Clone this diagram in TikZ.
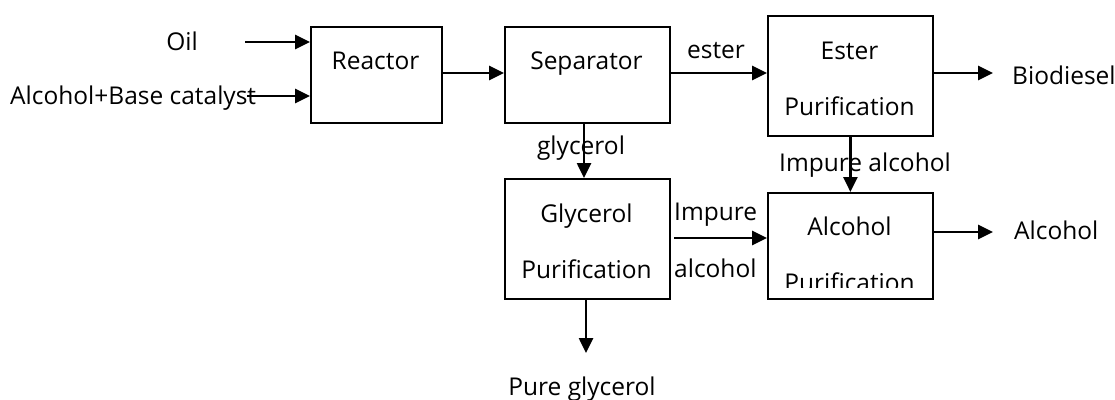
\documentclass[tikz,border=0pt]{standalone}
\usepackage{fontspec}
\setmainfont{Open Sans}
\usetikzlibrary{arrows.meta}
\begin{document}
\begin{tikzpicture}[x=1pt,y=-1pt,
  box/.style={draw=black, line width=1.8pt, fill=white, inner sep=0pt, anchor=north west},
  txt/.style={inner sep=0pt, anchor=base, font=\fontsize{24.5}{24.5}\selectfont, text=black},
  arr/.style={draw=black, line width=2.6pt, -{Triangle[length=15pt,width=14pt]}}]
\useasboundingbox (0,0) rectangle (1115,399);
\fill[white] (0,0) rectangle (1115,399);
% boxes
\node[box, minimum width=131pt, minimum height=96pt] (reactor) at (310,26) {};
\node[box, minimum width=165pt, minimum height=96pt] (separator) at (504,26) {};
\node[box, minimum width=165pt, minimum height=120pt] (ester) at (767,15) {};
\node[box, minimum width=165pt, minimum height=120pt] (glyc) at (504,178) {};
\node[box, minimum width=165pt, minimum height=106pt] (alcp) at (767,192) {};
% box texts
\node[txt] (reactorT) at (375.5,69) {Reactor};
\node[txt] (separatorT) at (586.5,69) {Separator};
\node[txt] (esterT1) at (849.5,59) {Ester};
\node[txt] (esterT2) at (849.5,115) {Purification};
\node[txt] (glycT1) at (586.5,222) {Glycerol};
\node[txt] (glycT2) at (586.5,278) {Purification};
\node[txt] (alcpT1) at (849.5,235) {Alcohol};
\begin{scope}
  \clip (768,193) rectangle (931,287);
  \node[txt] (alcpT2) at (849.5,291) {Purification};
\end{scope}
% outer labels
\node[txt] (oilT) at (182,50) {Oil};
\node[txt, anchor=base west] (alcT) at (10,104) {Alcohol+Base catalyst};
\node[txt] (esterL) at (716,58) {ester};
\node[txt, anchor=base west] (bioT) at (1012,84) {Biodiesel};
\node[txt] (glycL) at (581,154) {glycerol};
\node[txt] (impL) at (865,171) {Impure alcohol};
\node[txt, anchor=base west] (impL1) at (674,220) {Impure};
\node[txt, anchor=base west] (impL2) at (674,277) {alcohol};
\node[txt, anchor=base west] (alcOutT) at (1014,239) {Alcohol};
\node[txt] (pureT) at (582,395) {Pure glycerol};
% free arrow ends
\coordinate (oilS) at (245,42);
\coordinate (alcS) at (247,96);
\coordinate (rsA) at (441,73);
\coordinate (seA) at (669,73);
\coordinate (bioE) at (993,73);
\coordinate (impS) at (674,238);
\coordinate (alcE) at (993,232);
\coordinate (pureE) at (586,353);
% connectors
\draw[arr] (oilS) -- (oilS -| reactor.west);
\draw[arr] (alcS) -- (alcS -| reactor.west);
\draw[arr] (rsA) -- (rsA -| separator.west);
\draw[arr] (seA) -- (seA -| ester.west);
\draw[arr] (bioE -| ester.east) -- (bioE);
\draw[arr] (separator.south -| 584,0) -- (glyc.north -| 584,0);
\draw[arr] (impS) -- (impS -| alcp.west);
\draw[arr] (ester.south) -- (alcp.north);
\draw[arr] (alcE -| alcp.east) -- (alcE);
\draw[arr] (pureE |- glyc.south) -- (pureE);
\end{tikzpicture}
\end{document}
